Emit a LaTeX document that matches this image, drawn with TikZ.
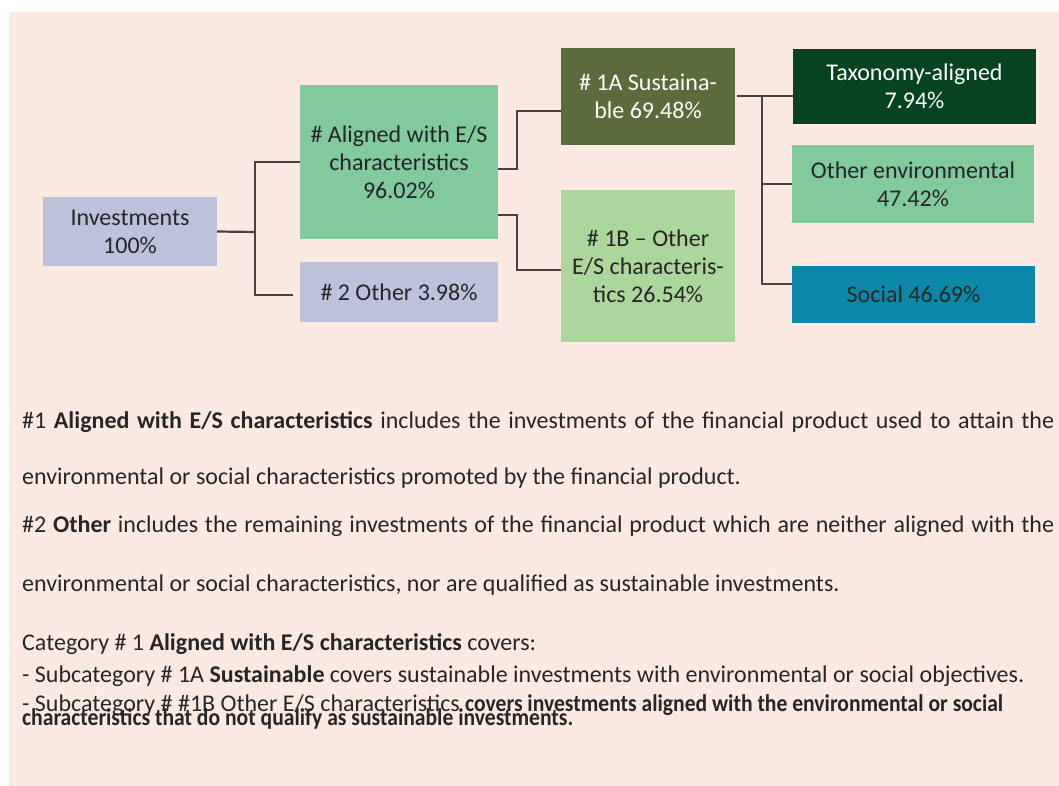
\documentclass[tikz,border=0pt]{standalone}
\usepackage{fontspec}
\setmainfont{Carlito}
\usepackage{graphicx}
\definecolor{bgpink}{HTML}{FCE9E2}
\definecolor{lav}{HTML}{BBC2DA}
\definecolor{midgreen}{HTML}{80CA9C}
\definecolor{olive}{HTML}{5C6B3E}
\definecolor{lightgreen}{HTML}{ACD69D}
\definecolor{darkgreen}{HTML}{084320}
\definecolor{teal}{HTML}{0B87A8}
\definecolor{ink}{HTML}{262626}
\definecolor{linec}{HTML}{4B4141}
\begin{document}
\begin{tikzpicture}[x=1pt,y=-1pt,
  box/.style={inner sep=0pt, align=center, text=ink, font=\fontsize{24}{28}\selectfont},
  conn/.style={draw=linec, line width=2.2pt},
  para/.style={inner sep=0pt, anchor=base west, text=ink, font=\fontsize{24}{29}\selectfont}]
\useasboundingbox (0,0) rectangle (1059,786);
\fill[bgpink] (9,12) rectangle (1059,786);
% boxes
\node[box, fill=lav, minimum width=174pt, minimum height=69pt] (inv) at (130,231.5) {Investments\\100\%};
\node[box, fill=midgreen, minimum width=198pt, minimum height=154pt] (al) at (399,162) {\# Aligned with E/S\\characteristics\\96.02\%};
\node[box, fill=lav, minimum width=198pt, minimum height=60pt] (oth) at (399,292) {\# 2 Other 3.98\%};
\node[box, fill=olive, text=white, minimum width=174pt, minimum height=97pt] (s1a) at (648,96.5) {\# 1A Sustaina-\\ble 69.48\%};
\node[box, fill=lightgreen, minimum width=174pt, minimum height=152pt] (s1b) at (648,266) {\# 1B -- Other\\E/S characteris-\\tics 26.54\%};
\node[box, fill=darkgreen, text=white, minimum width=243pt, minimum height=75pt] (tax) at (914.5,86.5) {Taxonomy-aligned\\7.94\%};
\node[box, fill=midgreen, minimum width=242pt, minimum height=78pt] (oenv) at (913,184) {Other environmental\\47.42\%};
\node[box, fill=teal, minimum width=243pt, minimum height=57pt] (soc) at (913.5,294.5) {Social 46.69\%};
% junctions
\coordinate (j1) at (255,232);
\coordinate (j2) at (517,169);
\coordinate (j3) at (517,215);
\coordinate (j4) at (762,96);
% connectors
\draw[conn] (inv.east) -- (j1);
\draw[conn] (al.west) -| (j1) |- ([xshift=-7pt,yshift=-3pt]oth.west);
\draw[conn] ([yshift=-7pt]al.east) -- (j2) |- ([yshift=-14.5pt]s1a.west);
\draw[conn] ([yshift=-53pt]al.east) -- (j3) |- ([yshift=-4pt]s1b.west);
\draw[conn] ([xshift=2pt,yshift=0.5pt]s1a.east) -- (j4) -- (j4 -| tax.west);
\draw[conn] (j4) |- (oenv.west);
\draw[conn] (j4) |- ([yshift=10.5pt]soc.west);
% text
\node[para] (t1) at (22,428) {\makebox[1032pt][s]{\#1 \textbf{Aligned with E/S characteristics} includes the investments of the financial product used to attain the}};
\node[para] (t2) at (22,484.5) {environmental or social characteristics promoted by the financial product.};
\node[para] (t3) at (22,532.5) {\makebox[1032pt][s]{\#2 \textbf{Other} includes the remaining investments of the financial product which are neither aligned with the}};
\node[para] (t4) at (22,591) {environmental or social characteristics, nor are qualified as sustainable investments.};
\node[para] (t5) at (22,650) {Category \# 1 \textbf{Aligned with E/S characteristics} covers:};
\node[para] (t6) at (22,682) {- Subcategory \# 1A \textbf{Sustainable} covers sustainable investments with environmental or social objectives.};
\node[para] (t7) at (22,711) {- Subcategory \# \#1B Other E/S characteristics \resizebox{538pt}{\height}{\textbf{covers investments aligned with the environmental or social}}};
\node[para] (t8) at (22,725) {\resizebox{551pt}{\height}{\textbf{characteristics that do not qualify as sustainable investments.}}};
\end{tikzpicture}
\end{document}
